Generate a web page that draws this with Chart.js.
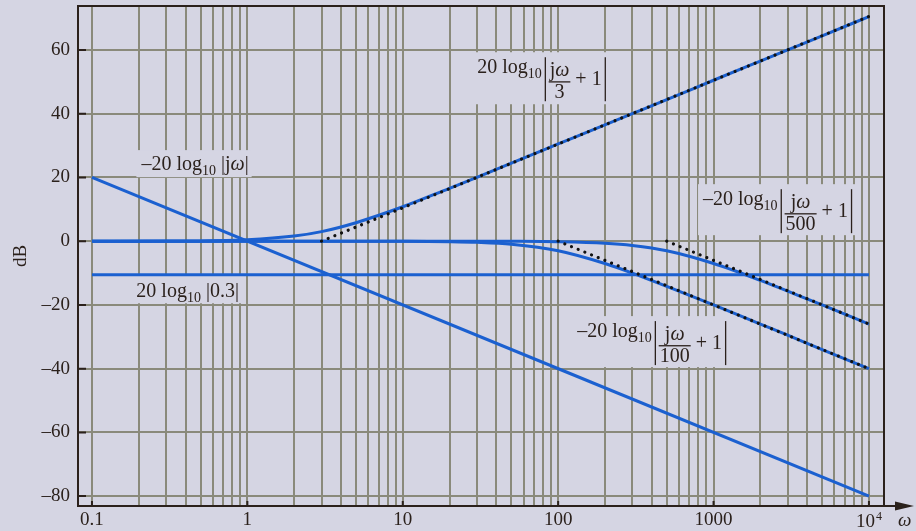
<!DOCTYPE html>
<html>
<head>
<meta charset="utf-8">
<script src="https://cdn.jsdelivr.net/npm/chart.js@4.4.0/dist/chart.umd.min.js"></script>
<style>
  html, body { margin: 0; padding: 0; background: #d5d5e3; }
  #wrap { width: 916px; height: 531px; position: relative; }
</style>
</head>
<body>
<div id="wrap"><canvas id="bode"></canvas></div>
<script>
/* ---------- values ---------- */
const omega      = [0.1, 0.3, 1, 2, 3, 5, 10, 20, 30, 50, 100, 200, 300, 500, 1000, 2000, 3000, 5000, 10000];
const dbZero3    = [0, 0.04, 0.46, 1.6, 3.0, 5.8, 10.8, 16.6, 20.0, 24.5, 30.5, 36.5, 40.0, 44.4, 50.5, 56.5, 60.0, 64.4, 70.5];
const dbPole100  = [0, 0, 0, 0, 0, 0, -0.04, -0.17, -0.37, -0.97, -3.0, -7.0, -10.0, -14.2, -20.0, -26.0, -29.5, -34.0, -40.0];
const dbPole500  = [0, 0, 0, 0, 0, 0, 0, -0.01, -0.02, -0.04, -0.17, -0.64, -1.34, -3.0, -7.0, -12.3, -15.7, -20.0, -26.0];

const omegaEnds  = [0.1, 10000];
const dbIntegr   = [20, -80];        // -20 log|jω|
const dbGain     = [-10.5, -10.5];   // 20 log|0.3|

// straight-line asymptotes (dotted)
const asym3W   = [3, 10000];   const asym3Db   = [0, 70.5];
const asym100W = [100, 10000]; const asym100Db = [0, -40];
const asym500W = [500, 10000]; const asym500Db = [0, -26];

// axes
const xDecades      = [0.1, 1, 10, 100, 1000, 10000];
const xDecadeLabels = ['0.1', '1', '10', '100', '1000', ''];   // 10^4 drawn with superscript
const yTicks        = [-80, -60, -40, -20, 0, 20, 40, 60];

/* ---------- look ---------- */
const FONT = '"Liberation Serif", "Times New Roman", serif';
const INK  = '#2b211c';
const BG   = '#d5d5e3';
const GRID = '#8a8a7b';
const BLUE = '#1b60d0';

const X_MIN = 0.0813, X_MAX = 12500;
const Y_MIN = -83.1,  Y_MAX = 73.8;

// vertical grid: 1..9 in each decade, plus 10^4
const xGrid = [];
xDecades.slice(0, -1).forEach(d => { for (let m = 1; m <= 9; m++) xGrid.push(d * m); });
xGrid.push(10000);

const pts = (xs, ys) => xs.map((x, i) => ({ x: x, y: ys[i] }));

/* ---------- text helpers for the formula labels ---------- */
function run(ctx, x, y, s, size, italic) {
    ctx.font = (italic ? 'italic ' : '') + size + 'px ' + FONT;
    ctx.fillText(s, x, y);
    return x + ctx.measureText(s).width;
}

function absBar(ctx, x, y0, y1) {
    ctx.fillRect(x, y0, 1.3, y1 - y0);
}

function logPrefix(ctx, x, B, sign) {
    const cx = run(ctx, x, B, sign + '20 log', 20);
    return run(ctx, cx, B + 5, '10', 14);
}

// sign 20 log10 | jω/den + 1 |
function fracLabel(ctx, x, B, sign, den) {
    let cx = logPrefix(ctx, x, B, sign) + 3;
    absBar(ctx, cx, B - 16, B + 28);
    cx += 4;
    ctx.font = '20px ' + FONT;          const wj = ctx.measureText('j').width;
    ctx.font = 'italic 20px ' + FONT;   const ww = ctx.measureText('ω').width;
    ctx.font = '20px ' + FONT;          const wd = ctx.measureText(den).width;
    const w = Math.max(wj + ww, wd) + 2;
    const nx = cx + (w - wj - ww) / 2;
    run(ctx, run(ctx, nx, B + 3, 'j', 20), B + 3, 'ω', 20, true);
    ctx.fillRect(cx, B + 8, w, 1.3);
    run(ctx, cx + (w - wd) / 2, B + 25, den, 20);
    cx = run(ctx, cx + w, B + 12, ' + 1', 20) + 3;
    absBar(ctx, cx, B - 16, B + 28);
    return cx + 2;
}

// sign 20 log10 |inner|
function plainLabel(ctx, x, B, sign, inner) {
    let cx = logPrefix(ctx, x, B, sign);
    cx = run(ctx, cx, B, ' |', 20);
    if (inner === 'jω') {
        cx = run(ctx, cx, B, 'j', 20);
        cx = run(ctx, cx, B, 'ω', 20, true);
    } else {
        cx = run(ctx, cx, B, inner, 20);
    }
    return run(ctx, cx, B, '|', 20);
}

// anchor = left edge / baseline of the label, in data units
const formulaLabels = [
    { w: 0.208, db: 22.3,  top: 20, bot: 7,  draw: (c, x, B) => plainLabel(c, x, B, '–', 'jω') },
    { w: 0.193, db: -17.6, top: 22, bot: 6,  draw: (c, x, B) => plainLabel(c, x, B, '', '0.3') },
    { w: 30.1,  db: 52.7,  top: 21, bot: 31, draw: (c, x, B) => fracLabel(c, x, B, '', '3') },
    { w: 856,   db: 11.3,  top: 21, bot: 30, draw: (c, x, B) => fracLabel(c, x, B, '–', '500') },
    { w: 132.5, db: -30.1, top: 21, bot: 30, draw: (c, x, B) => fracLabel(c, x, B, '–', '100') }
];

/* ---------- plugin: labels, frame, inside ticks, arrow ---------- */
const bodeDecor = {
    id: 'bodeDecor',
    beforeDatasetsDraw(chart) {
        const ctx = chart.ctx, sx = chart.scales.x, sy = chart.scales.y;
        ctx.save();
        ctx.textBaseline = 'alphabetic';
        ctx.textAlign = 'left';
        formulaLabels.forEach(l => {
            const x = sx.getPixelForValue(l.w), B = sy.getPixelForValue(l.db);
            ctx.globalAlpha = 0;
            const end = l.draw(ctx, x, B);
            ctx.globalAlpha = 1;
            ctx.fillStyle = BG;
            ctx.fillRect(x - 5, B - l.top, end - x + 8, l.top + l.bot);
            ctx.fillStyle = INK;
            l.draw(ctx, x, B);
        });
        ctx.restore();
    },
    afterDraw(chart) {
        const ctx = chart.ctx, a = chart.chartArea, sx = chart.scales.x, sy = chart.scales.y;
        ctx.save();
        ctx.strokeStyle = INK;
        ctx.fillStyle = INK;
        ctx.lineWidth = 2;
        ctx.strokeRect(a.left, a.top, a.right - a.left, a.bottom - a.top);

        // tick marks pointing inward
        ctx.beginPath();
        yTicks.forEach(v => {
            const y = sy.getPixelForValue(v);
            ctx.moveTo(a.left, y); ctx.lineTo(a.left + 8, y);
        });
        xDecades.forEach(v => {
            const x = sx.getPixelForValue(v);
            ctx.moveTo(x, a.bottom); ctx.lineTo(x, a.bottom - 5);
        });
        ctx.stroke();

        // x axis arrow
        ctx.beginPath();
        ctx.moveTo(a.right, a.bottom); ctx.lineTo(898, a.bottom);
        ctx.stroke();
        ctx.beginPath();
        ctx.moveTo(914, a.bottom);
        ctx.lineTo(895, a.bottom - 4.5);
        ctx.lineTo(895, a.bottom + 4.5);
        ctx.closePath();
        ctx.fill();

        // ω axis name and 10^4 label
        ctx.textBaseline = 'alphabetic';
        ctx.textAlign = 'left';
        run(ctx, 898, 526, 'ω', 19, true);
        const x4 = sx.getPixelForValue(10000);
        ctx.font = '19px ' + FONT;
        const w10 = ctx.measureText('10').width;
        const e = run(ctx, x4 + 6 - w10, 527, '10', 19);
        run(ctx, e + 1, 520, '4', 12);
        ctx.restore();
    }
};

/* ---------- chart ---------- */
const blueLine = (label, data) => ({
    label: label,
    data: data,
    borderColor: BLUE,
    borderWidth: 3,
    pointRadius: 0,
    fill: false,
    cubicInterpolationMode: 'monotone',
    order: 2
});

const dotLine = (label, data) => ({
    label: label,
    data: data,
    borderColor: '#111111',
    borderWidth: 3.2,
    borderDash: [0.01, 7.2],
    borderCapStyle: 'round',
    pointRadius: 0,
    fill: false,
    order: 1
});

new Chart(document.getElementById('bode'), {
    type: 'line',
    data: {
        datasets: [
            dotLine('asymptote 3', pts(asym3W, asym3Db)),
            dotLine('asymptote 100', pts(asym100W, asym100Db)),
            dotLine('asymptote 500', pts(asym500W, asym500Db)),
            blueLine('20 log|jω/3 + 1|', pts(omega, dbZero3)),
            blueLine('-20 log|jω/100 + 1|', pts(omega, dbPole100)),
            blueLine('-20 log|jω/500 + 1|', pts(omega, dbPole500)),
            blueLine('-20 log|jω|', pts(omegaEnds, dbIntegr)),
            blueLine('20 log|0.3|', pts(omegaEnds, dbGain))
        ]
    },
    options: {
        responsive: true,
        maintainAspectRatio: false,
        animation: false,
        layout: { padding: { top: 6, right: 32, left: 0, bottom: 0 } },
        plugins: {
            legend: { display: false },
            tooltip: { enabled: false }
        },
        scales: {
            x: {
                type: 'logarithmic',
                min: X_MIN,
                max: X_MAX,
                afterBuildTicks: s => { s.ticks = xGrid.map(v => ({ value: v })); },
                afterFit: s => { s.height = 25; s.paddingLeft = 0; s.paddingRight = 0; },
                grid: { color: GRID, lineWidth: 2, drawTicks: false },
                border: { display: false },
                ticks: {
                    autoSkip: false,
                    maxRotation: 0,
                    padding: 3,
                    color: INK,
                    font: { family: FONT, size: 19 },
                    callback: v => {
                        const i = xDecades.findIndex(d => Math.abs(d - v) / d < 1e-6);
                        return i >= 0 ? xDecadeLabels[i] : '';
                    }
                }
            },
            y: {
                min: Y_MIN,
                max: Y_MAX,
                afterBuildTicks: s => { s.ticks = yTicks.map(v => ({ value: v })); },
                afterFit: s => { s.width = 78; s.paddingTop = 0; s.paddingBottom = 0; },
                grid: { color: GRID, lineWidth: 2, drawTicks: false },
                border: { display: false },
                title: {
                    display: true,
                    text: 'dB',
                    color: INK,
                    font: { family: FONT, size: 19 },
                    padding: { top: 10, bottom: 0 }
                },
                ticks: {
                    padding: 8,
                    color: INK,
                    font: { family: FONT, size: 19 },
                    callback: v => (v < 0 ? '–' + Math.abs(v) : String(v))
                }
            }
        }
    },
    plugins: [bodeDecor]
});
</script>
</body>
</html>
